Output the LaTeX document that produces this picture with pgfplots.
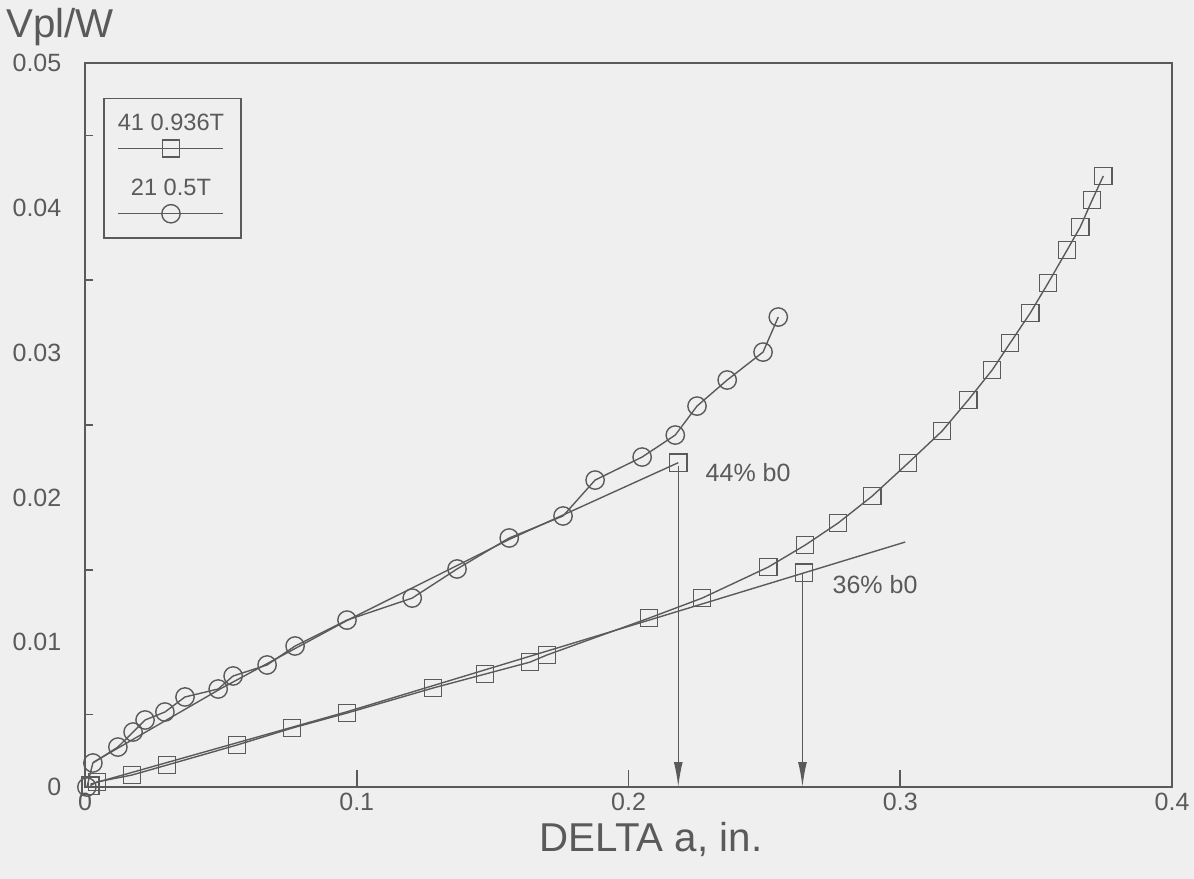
\documentclass[border=0pt]{standalone}
\usepackage{pgfplots}
\pgfplotsset{compat=1.18}
\usepackage{fontspec}
\setmainfont{Liberation Sans}
\usetikzlibrary{arrows.meta}
\definecolor{ink}{RGB}{90,90,90}
\definecolor{paper}{RGB}{239,239,239}

\begin{document}
\begin{tikzpicture}
\path[use as bounding box, fill=paper] (-30.6pt,-33.1pt) rectangle (399.2pt,283.3pt);
\begin{axis}[
  scale only axis, width=391.3pt, height=260.6pt,
  xmin=0, xmax=0.4, ymin=0, ymax=0.05,
  scaled y ticks=false, scaled x ticks=false,
  axis line style={draw=ink, line width=0.7pt},
  xtick={0,0.1,0.2,0.3,0.4},
  xticklabels={0,0.1,0.2,0.3,0.4},
  ytick={0,0.01,0.02,0.03,0.04,0.05},
  yticklabels={0,0.01,0.02,0.03,0.04,0.05},
  minor ytick={0.005,0.015,0.025,0.035,0.045},
  tick pos=left, tick align=inside,
  major tick length=6pt, minor tick length=2.8pt,
  major x tick style={draw=ink, line width=0.6pt},
  major y tick style={draw=none},
  minor y tick style={draw=ink, line width=0.6pt},
  /pgf/number format/assume math mode=true,
  every tick label/.append style={font=\fontsize{9}{11}\selectfont, text=ink},
  yticklabel style={xshift=-5pt},
  xticklabel style={yshift=-0.8pt, inner ysep=1pt},
  xlabel={DELTA a, in.},
  x label style={at={(axis description cs:0.5207,-0.073)}, anchor=center,
    inner ysep=1pt, font=\fontsize{14.5}{16}\selectfont, text=ink},
  ylabel={Vpl/W},
  y label style={at={(axis description cs:-0.023,1.05)}, rotate=-90, anchor=center,
    font=\fontsize{14.5}{16}\selectfont, text=ink},
  legend style={at={(axis description cs:0.0166,0.952)}, anchor=north west,
    draw=ink, line width=0.6pt, fill=none, inner xsep=5pt, inner ysep=5.5pt,
    row sep=8pt, nodes={inner sep=0pt}},
]

% test specimen 41, 0.936T
\addplot[ink, line width=0.5pt, mark=square, mark size=3.1pt,
  legend image code/.code={
    \draw[mark repeat=2, mark phase=2] plot coordinates {(0pt,0pt) (18.9pt,0pt) (37.8pt,0pt)};
    \node[draw=none, fill=none, text=ink, inner sep=0pt, font=\fontsize{8.5}{10}\selectfont]
      at (18.9pt,8.7pt) {41 0.936T};
  }] coordinates {
  (0.0020,0.0001) (0.0044,0.00035) (0.0173,0.00083) (0.0302,0.00152)
  (0.0559,0.0029) (0.0762,0.00407) (0.0964,0.00511) (0.1281,0.00684)
  (0.1472,0.0078) (0.1638,0.00863) (0.1700,0.00912) (0.2076,0.01167)
  (0.2271,0.01305) (0.2514,0.01519) (0.2650,0.01671) (0.2771,0.01823)
  (0.2897,0.02010) (0.3029,0.02238) (0.3154,0.02459) (0.3250,0.02673)
  (0.3338,0.02880) (0.3404,0.03066) (0.3478,0.03273) (0.3544,0.03481)
  (0.3614,0.03709) (0.3662,0.03867) (0.3706,0.04054) (0.3747,0.04220)
};
\addlegendentry{}

% test specimen 21, 0.5T
\addplot[ink, line width=0.5pt, mark=o, mark size=3.3pt,
  legend image code/.code={
    \draw[mark repeat=2, mark phase=2] plot coordinates {(0pt,0pt) (18.9pt,0pt) (37.8pt,0pt)};
    \node[draw=none, fill=none, text=ink, inner sep=0pt, font=\fontsize{8.5}{10}\selectfont]
      at (18.9pt,8.7pt) {21 0.5T};
  }] coordinates {
  (0.0007,0.0000) (0.0029,0.00166) (0.0121,0.00276) (0.0177,0.0038)
  (0.0221,0.00463) (0.0294,0.00518) (0.0368,0.00622) (0.0490,0.00677)
  (0.0545,0.00767) (0.0670,0.00843) (0.0773,0.00974) (0.0964,0.01153)
  (0.1204,0.01305) (0.1369,0.01506) (0.1561,0.01720) (0.1759,0.01872)
  (0.1877,0.02120) (0.2050,0.02279) (0.2172,0.02431) (0.2252,0.02631)
  (0.2363,0.02811) (0.2495,0.03004) (0.2551,0.03246)
};
\addlegendentry{}

% fitted lines
\addplot[ink, line width=0.5pt, forget plot] coordinates {
  (0.003,0.0017) (0.050,0.0068) (0.0964,0.01150) (0.1561,0.0171) (0.2183,0.0224)};
\addplot[ink, line width=0.5pt, forget plot] coordinates {
  (0.002,0.0002) (0.0964,0.0052) (0.2076,0.01153) (0.3018,0.01692)};

% end points at 44% and 36% of b0
\addplot[ink, line width=0.5pt, mark=square, mark size=3.1pt, only marks, forget plot]
  coordinates {(0.2183,0.0224) (0.2645,0.0148)};
\addplot[ink, line width=0.5pt, -{Latex[length=9pt,width=3.2pt]}, forget plot]
  coordinates {(0.2183,0.0222) (0.2183,0)};
\addplot[ink, line width=0.5pt, -{Latex[length=9pt,width=3.2pt]}, forget plot]
  coordinates {(0.2640,0.0148) (0.2640,0)};

\node[anchor=west, inner sep=0pt, text=ink, font=\fontsize{9}{11}\selectfont] at (axis cs:0.2282,0.02169) {44\% b0};
\node[anchor=west, inner sep=0pt, text=ink, font=\fontsize{9}{11}\selectfont] at (axis cs:0.2749,0.01395) {36\% b0};
\end{axis}
\end{tikzpicture}
\end{document}
